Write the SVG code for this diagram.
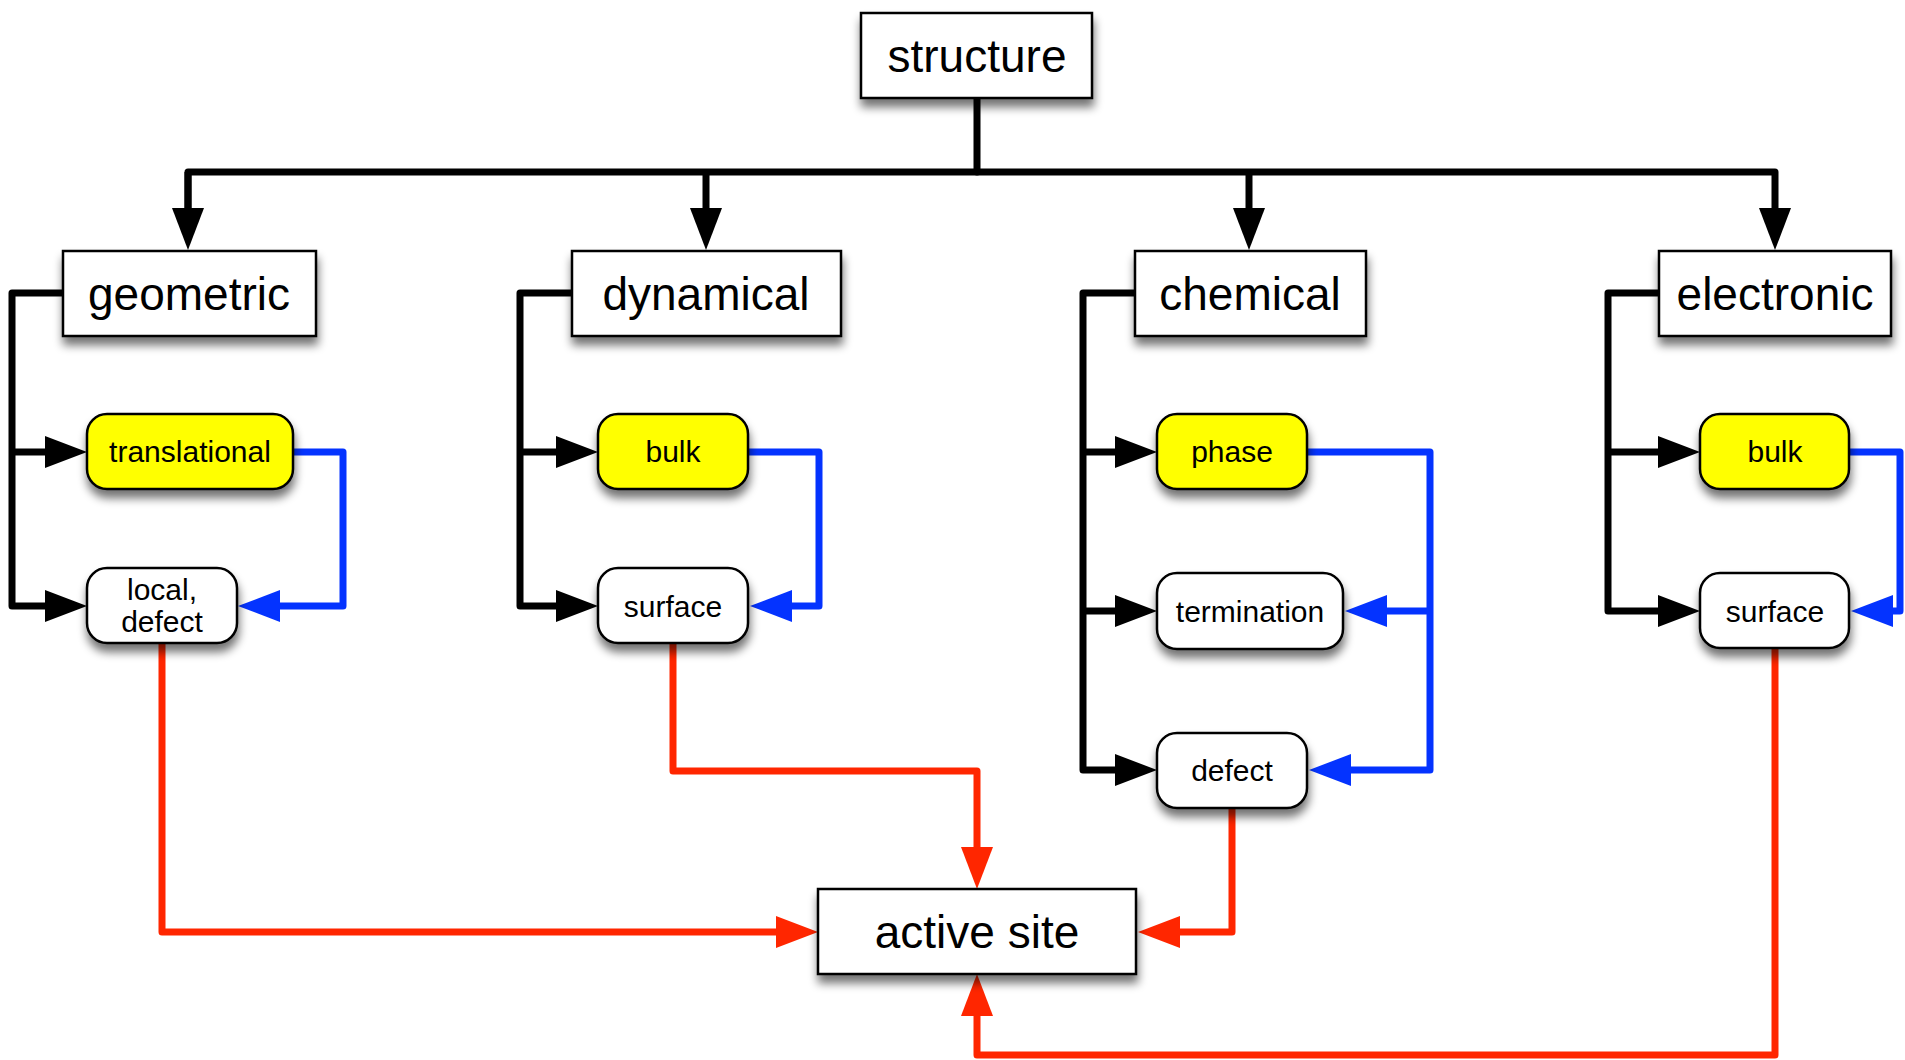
<svg xmlns="http://www.w3.org/2000/svg" width="1905" height="1060" viewBox="0 0 1905 1060">
<defs>
<filter id="sh" x="-20%" y="-20%" width="140%" height="160%">
<feGaussianBlur in="SourceAlpha" stdDeviation="5"/>
<feOffset dx="1" dy="8" result="b"/>
<feComponentTransfer><feFuncA type="linear" slope="0.55"/></feComponentTransfer>
<feMerge><feMergeNode/><feMergeNode in="SourceGraphic"/></feMerge>
</filter>
<marker id="ak" markerUnits="userSpaceOnUse" markerWidth="44" markerHeight="34" refX="0" refY="16" orient="auto" overflow="visible"><path d="M0,0 L42,16 L0,32 z" fill="#000"/></marker>
<marker id="ab" markerUnits="userSpaceOnUse" markerWidth="44" markerHeight="34" refX="0" refY="16" orient="auto" overflow="visible"><path d="M0,0 L42,16 L0,32 z" fill="#0433FF"/></marker>
<marker id="ar" markerUnits="userSpaceOnUse" markerWidth="44" markerHeight="34" refX="0" refY="16" orient="auto" overflow="visible"><path d="M0,0 L42,16 L0,32 z" fill="#FF2600"/></marker>
</defs>
<style>
.box{fill:#fff;stroke:#000;stroke-width:2.5;filter:url(#sh)}
.yel{fill:#FFFF00;stroke:#000;stroke-width:2.5;filter:url(#sh)}
.rnd{fill:#fff;stroke:#000;stroke-width:2.5;filter:url(#sh)}
.big{font-family:"Liberation Sans",Arial,sans-serif;font-size:46px;text-anchor:middle;fill:#000}
.sm{font-family:"Liberation Sans",Arial,sans-serif;font-size:30px;text-anchor:middle;fill:#000}
.k{fill:none;stroke:#000;stroke-width:7;stroke-linejoin:round}
.b{fill:none;stroke:#0433FF;stroke-width:7;stroke-linejoin:round}
.r{fill:none;stroke:#FF2600;stroke-width:7;stroke-linejoin:round}
</style>
<rect width="1905" height="1060" fill="#fff"/>
<g id="connectors">
<path class="k" d="M977,98 V172" stroke-linecap="round"/>
<path class="k" d="M188,208 V172 H1775 V208" marker-end="url(#ak)"/>
<path class="k" d="M188,172 V208" marker-end="url(#ak)"/>
<path class="k" d="M706,172 V208" marker-end="url(#ak)"/>
<path class="k" d="M1249,172 V208" marker-end="url(#ak)"/>
<path class="k" d="M63,293 H12 V606 H45" marker-end="url(#ak)"/>
<path class="k" d="M12,452 H45" marker-end="url(#ak)"/>
<path class="k" d="M572,293 H520 V606 H556" marker-end="url(#ak)"/>
<path class="k" d="M520,452 H556" marker-end="url(#ak)"/>
<path class="k" d="M1135,293 H1083 V770 H1115" marker-end="url(#ak)"/>
<path class="k" d="M1083,452 H1115" marker-end="url(#ak)"/>
<path class="k" d="M1083,611 H1115" marker-end="url(#ak)"/>
<path class="k" d="M1659,293 H1608 V611 H1658" marker-end="url(#ak)"/>
<path class="k" d="M1608,452 H1658" marker-end="url(#ak)"/>
<path class="b" d="M293,452 H343 V606 H280" marker-end="url(#ab)"/>
<path class="b" d="M748,452 H819 V606 H792" marker-end="url(#ab)"/>
<path class="b" d="M1307,452 H1430 V770 H1351" marker-end="url(#ab)"/>
<path class="b" d="M1430,611 H1387" marker-end="url(#ab)"/>
<path class="b" d="M1849,452 H1900 V611 H1893" marker-end="url(#ab)"/>
<path class="r" d="M162,643 V932 H776" marker-end="url(#ar)"/>
<path class="r" d="M673,643 V771 H977 V847" marker-end="url(#ar)"/>
<path class="r" d="M1232,808 V932 H1180" marker-end="url(#ar)"/>
<path class="r" d="M1775,648 V1055 H977 V1016" marker-end="url(#ar)"/>
</g>
<g id="structure"><rect class="box" x="861" y="13" width="231" height="85"/><text class="big" x="977" y="72">structure</text></g>
<g id="geometric"><rect class="box" x="63" y="251" width="253" height="85"/><text class="big" x="189" y="310">geometric</text></g>
<g id="dynamical"><rect class="box" x="572" y="251" width="269" height="85"/><text class="big" x="706" y="310">dynamical</text></g>
<g id="chemical"><rect class="box" x="1135" y="251" width="231" height="85"/><text class="big" x="1250" y="310">chemical</text></g>
<g id="electronic"><rect class="box" x="1659" y="251" width="232" height="85"/><text class="big" x="1775" y="310">electronic</text></g>
<g id="translational"><rect class="yel" x="87" y="414" width="206" height="75" rx="20"/><text class="sm" x="190" y="462">translational</text></g>
<g id="local-defect"><rect class="rnd" x="87" y="568" width="150" height="75" rx="20"/><text class="sm" x="162" y="600">local,</text><text class="sm" x="162" y="632">defect</text></g>
<g id="dyn-bulk"><rect class="yel" x="598" y="414" width="150" height="75" rx="20"/><text class="sm" x="673" y="462">bulk</text></g>
<g id="dyn-surface"><rect class="rnd" x="598" y="568" width="150" height="75" rx="20"/><text class="sm" x="673" y="617">surface</text></g>
<g id="phase"><rect class="yel" x="1157" y="414" width="150" height="75" rx="20"/><text class="sm" x="1232" y="462">phase</text></g>
<g id="termination"><rect class="rnd" x="1157" y="573" width="186" height="76" rx="20"/><text class="sm" x="1250" y="622">termination</text></g>
<g id="chem-defect"><rect class="rnd" x="1157" y="733" width="150" height="75" rx="20"/><text class="sm" x="1232" y="781">defect</text></g>
<g id="ele-bulk"><rect class="yel" x="1700" y="414" width="149" height="75" rx="20"/><text class="sm" x="1775" y="462">bulk</text></g>
<g id="ele-surface"><rect class="rnd" x="1700" y="573" width="149" height="75" rx="20"/><text class="sm" x="1775" y="622">surface</text></g>
<g id="active-site"><rect class="box" x="818" y="889" width="318" height="85"/><text class="big" x="977" y="948">active site</text></g>
</svg>
